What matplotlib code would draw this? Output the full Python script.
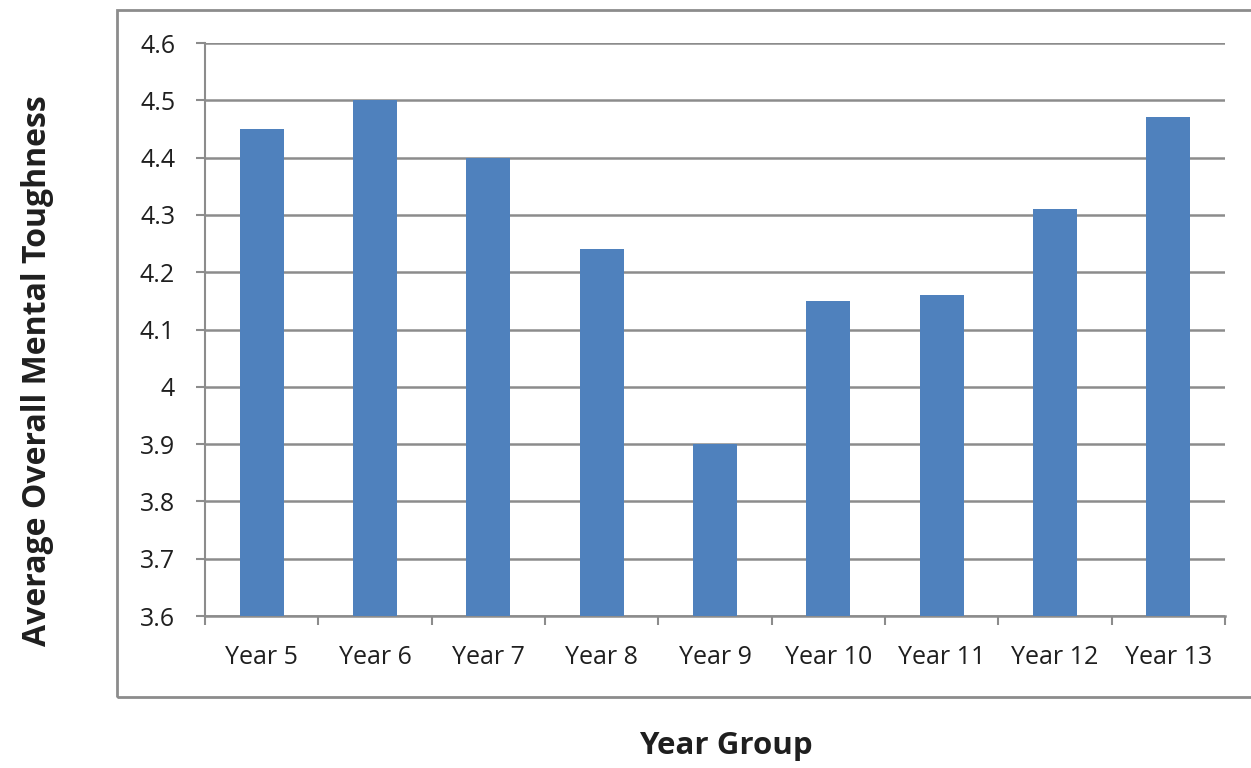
import matplotlib.pyplot as plt
from matplotlib.patches import Rectangle

plt.rcParams['font.family'] = ['Open Sans', 'DejaVu Sans']

years = ['Year 5', 'Year 6', 'Year 7', 'Year 8', 'Year 9',
         'Year 10', 'Year 11', 'Year 12', 'Year 13']
toughness = [4.45, 4.50, 4.40, 4.24, 3.90, 4.15, 4.16, 4.31, 4.47]
yticks = [3.6, 3.7, 3.8, 3.9, 4.0, 4.1, 4.2, 4.3, 4.4, 4.5, 4.6]
ytick_labels = ['3.6', '3.7', '3.8', '3.9', '4', '4.1', '4.2', '4.3', '4.4', '4.5', '4.6']

grey = '#8c8c8c'
text_col = '#1f1f1f'

fig = plt.figure(figsize=(12.51, 7.68), dpi=100)

# outer chart-area border (Excel style)
fig.patches.append(Rectangle((0.0935, 0.0924), 0.93, 0.8946, transform=fig.transFigure,
                             fill=False, edgecolor=grey, linewidth=2, zorder=0))

ax = fig.add_axes([0.1639, 0.1979, 0.8153, 0.7461])
x = range(len(years))
ax.bar(x, [v - 3.6 for v in toughness], bottom=3.6, width=0.39, color='#4F81BD', zorder=3)

ax.set_ylim(3.6, 4.6)
ax.set_xlim(-0.5, len(years) - 0.5)
ax.set_yticks(yticks)
ax.set_yticklabels(ytick_labels)
ax.set_xticks(list(x))
ax.set_xticklabels(years)
ax.set_xticks([i - 0.5 for i in range(len(years) + 1)], minor=True)
ax.tick_params(axis='x', which='major', length=0, pad=21, labelsize=18, labelcolor=text_col)
ax.tick_params(axis='x', which='minor', length=6.5, width=1.5, color=grey)
ax.tick_params(axis='y', length=6.5, width=1.5, color=grey, pad=15, labelsize=18, labelcolor=text_col)

ax.grid(axis='y', color=grey, linewidth=1.8, zorder=0)
for s in ['top', 'right']:
    ax.spines[s].set_visible(False)
ax.spines['left'].set_color(grey)
ax.spines['left'].set_linewidth(1.5)
ax.spines['bottom'].set_color(grey)
ax.spines['bottom'].set_linewidth(1.8)

fig.text(0.030, 0.517, 'Average Overall Mental Toughness', rotation=90, ha='center', va='center',
         fontsize=23, fontweight='bold', color=text_col)
fig.text(0.58, 0.029, 'Year Group', ha='center', va='center',
         fontsize=22.5, fontweight='bold', color=text_col)

plt.savefig('out.png')
